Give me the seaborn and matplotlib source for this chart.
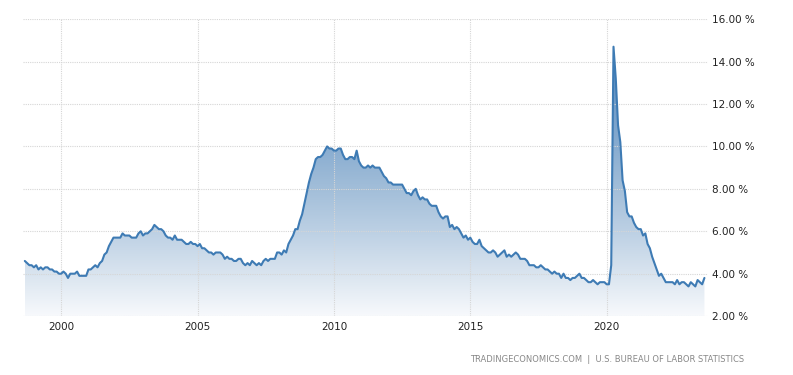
import numpy as np
import pandas as pd
import matplotlib
matplotlib.use("Agg")
import matplotlib.pyplot as plt
import seaborn as sns
from matplotlib.colors import LinearSegmentedColormap

# Monthly US unemployment rate (%), Sep 1998 - Aug 2023
y1998 = [4.6, 4.5, 4.4, 4.4]  # Sep-Dec
y1999 = [4.3, 4.4, 4.2, 4.3, 4.2, 4.3, 4.3, 4.2, 4.2, 4.1, 4.1, 4.0]
y2000 = [4.0, 4.1, 4.0, 3.8, 4.0, 4.0, 4.0, 4.1, 3.9, 3.9, 3.9, 3.9]
y2001 = [4.2, 4.2, 4.3, 4.4, 4.3, 4.5, 4.6, 4.9, 5.0, 5.3, 5.5, 5.7]
y2002 = [5.7, 5.7, 5.7, 5.9, 5.8, 5.8, 5.8, 5.7, 5.7, 5.7, 5.9, 6.0]
y2003 = [5.8, 5.9, 5.9, 6.0, 6.1, 6.3, 6.2, 6.1, 6.1, 6.0, 5.8, 5.7]
y2004 = [5.7, 5.6, 5.8, 5.6, 5.6, 5.6, 5.5, 5.4, 5.4, 5.5, 5.4, 5.4]
y2005 = [5.3, 5.4, 5.2, 5.2, 5.1, 5.0, 5.0, 4.9, 5.0, 5.0, 5.0, 4.9]
y2006 = [4.7, 4.8, 4.7, 4.7, 4.6, 4.6, 4.7, 4.7, 4.5, 4.4, 4.5, 4.4]
y2007 = [4.6, 4.5, 4.4, 4.5, 4.4, 4.6, 4.7, 4.6, 4.7, 4.7, 4.7, 5.0]
y2008 = [5.0, 4.9, 5.1, 5.0, 5.4, 5.6, 5.8, 6.1, 6.1, 6.5, 6.8, 7.3]
y2009 = [7.8, 8.3, 8.7, 9.0, 9.4, 9.5, 9.5, 9.6, 9.8, 10.0, 9.9, 9.9]
y2010 = [9.8, 9.8, 9.9, 9.9, 9.6, 9.4, 9.4, 9.5, 9.5, 9.4, 9.8, 9.3]
y2011 = [9.1, 9.0, 9.0, 9.1, 9.0, 9.1, 9.0, 9.0, 9.0, 8.8, 8.6, 8.5]
y2012 = [8.3, 8.3, 8.2, 8.2, 8.2, 8.2, 8.2, 8.0, 7.8, 7.8, 7.7, 7.9]
y2013 = [8.0, 7.7, 7.5, 7.6, 7.5, 7.5, 7.3, 7.2, 7.2, 7.2, 6.9, 6.7]
y2014 = [6.6, 6.7, 6.7, 6.2, 6.3, 6.1, 6.2, 6.1, 5.9, 5.7, 5.8, 5.6]
y2015 = [5.7, 5.5, 5.4, 5.4, 5.6, 5.3, 5.2, 5.1, 5.0, 5.0, 5.1, 5.0]
y2016 = [4.8, 4.9, 5.0, 5.1, 4.8, 4.9, 4.8, 4.9, 5.0, 4.9, 4.7, 4.7]
y2017 = [4.7, 4.6, 4.4, 4.4, 4.4, 4.3, 4.3, 4.4, 4.3, 4.2, 4.2, 4.1]
y2018 = [4.0, 4.1, 4.0, 4.0, 3.8, 4.0, 3.8, 3.8, 3.7, 3.8, 3.8, 3.9]
y2019 = [4.0, 3.8, 3.8, 3.7, 3.6, 3.6, 3.7, 3.6, 3.5, 3.6, 3.6, 3.6]
y2020 = [3.5, 3.5, 4.4, 14.7, 13.2, 11.0, 10.2, 8.4, 7.9, 6.9, 6.7, 6.7]
y2021 = [6.4, 6.2, 6.1, 6.1, 5.8, 5.9, 5.4, 5.2, 4.8, 4.5, 4.2, 3.9]
y2022 = [4.0, 3.8, 3.6, 3.6, 3.6, 3.6, 3.5, 3.7, 3.5, 3.6, 3.6, 3.5]
y2023 = [3.4, 3.6, 3.5, 3.4, 3.7, 3.6, 3.5, 3.8]  # Jan-Aug

start_year, start_month = 1998, 9
x_ticks = [2000, 2005, 2010, 2015, 2020]
y_ticks = [2, 4, 6, 8, 10, 12, 14, 16]
y_tick_labels = ["2.00 %", "4.00 %", "6.00 %", "8.00 %", "10.00 %", "12.00 %", "14.00 %", "16.00 %"]
source_text = "TRADINGECONOMICS.COM  |  U.S. BUREAU OF LABOR STATISTICS"

values = (y1998 + y1999 + y2000 + y2001 + y2002 + y2003 + y2004 + y2005 + y2006 +
          y2007 + y2008 + y2009 + y2010 + y2011 + y2012 + y2013 + y2014 + y2015 +
          y2016 + y2017 + y2018 + y2019 + y2020 + y2021 + y2022 + y2023)
t = start_year + (start_month - 1) / 12 + np.arange(len(values)) / 12
df = pd.DataFrame({"t": t, "rate": values})

sns.set_theme(style="white")
plt.rcParams["font.family"] = ["DejaVu Sans"]

fig = plt.figure(figsize=(7.93, 3.75), dpi=100)
ax = fig.add_axes([0.029, 0.157, 0.864, 0.792])

xmin, xmax = 1998.6, 2023.72
ymin, ymax = 2, 16

# gradient fill under the curve (value -> colour)
g_lo, g_hi = 2.0, 15.0
stops = [(2.0, "#f7f9fc"), (4.0, "#d9e4ef"), (6.0, "#bcd0e4"), (8.0, "#a2bed9"),
         (10.0, "#88acd0"), (15.0, "#4f84bb")]
cmap = LinearSegmentedColormap.from_list(
    "g", [((v - g_lo) / (g_hi - g_lo), c) for v, c in stops])
grad = np.linspace(0, 1, 256).reshape(-1, 1)
im = ax.imshow(grad, extent=[df.t.min(), df.t.max(), g_lo, g_hi], origin="lower",
               aspect="auto", cmap=cmap, zorder=1)
poly = ax.fill_between(df.t, df.rate, ymin, color="none", lw=0)
path = poly.get_paths()[0]
im.set_clip_path(path, transform=ax.transData)

sns.lineplot(data=df, x="t", y="rate", ax=ax, color="#3e7bb4", lw=1.5, zorder=3)

ax.set_xlim(xmin, xmax)
ax.set_ylim(ymin, ymax)
ax.set_xticks(x_ticks)
ax.set_xticklabels([str(v) for v in x_ticks], fontsize=7.5, color="#222222")
ax.set_yticks(y_ticks)
ax.set_yticklabels(y_tick_labels, fontsize=7.5, color="#222222")
ax.yaxis.tick_right()
ax.tick_params(axis="both", length=0, pad=4)
ax.tick_params(axis="y", pad=3)
ax.set_xlabel("")
ax.set_ylabel("")
for s in ax.spines.values():
    s.set_visible(False)
ax.set_axisbelow(False)
ax.grid(True, color="#d6d6d6", linestyle=(0, (1, 1)), linewidth=0.8, zorder=2)

fig.text(0.938, 0.04, source_text, fontsize=6, color="#888888", ha="right", va="center")

fig.savefig("out.png", dpi=100, facecolor="white")
